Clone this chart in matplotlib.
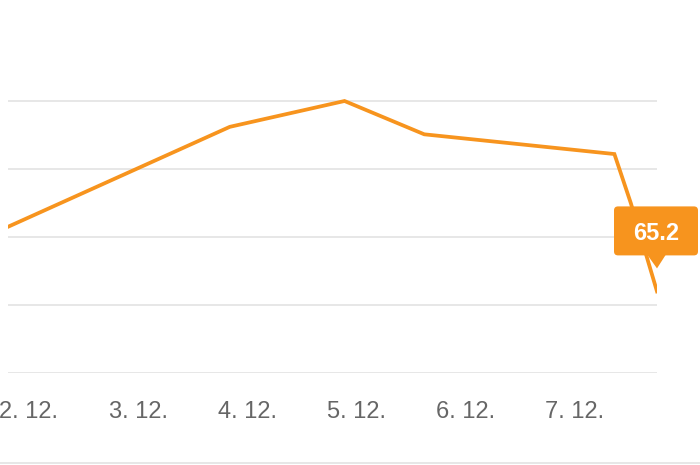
import numpy as np
import matplotlib
matplotlib.use("Agg")
import matplotlib.pyplot as plt
from matplotlib.patches import FancyBboxPatch, Polygon
from matplotlib.transforms import Affine2D
from matplotlib.lines import Line2D

# data (day of month, value)
days = [1.81, 3.84, 4.89, 5.62, 7.36, 7.51, 7.75]
values = [66.15, 67.62, 68.0, 67.51, 67.22, 66.5, 65.2]
tick_days = [2, 3, 4, 5, 6, 7]
tick_labels = ["2. 12.", "3. 12.", "4. 12.", "5. 12.", "6. 12.", "7. 12."]
grid_values = [64, 65, 66, 67, 68]

orange = "#f7941e"
grid_col = "#e3e3e3"

plt.rcParams['font.family'] = ['Liberation Sans', 'DejaVu Sans']

fig = plt.figure(figsize=(7, 4.65), dpi=100)
W, H = 700, 465
ax = fig.add_axes([8 / W, (H - 373) / H, (657 - 8) / W, (373 - 33) / H])

ax.plot(days, values, color=orange, lw=2.7, solid_joinstyle='miter', zorder=3)

ax.set_xlim(1.81, 7.75)
ax.set_ylim(64, 69)
ax.set_yticks(grid_values)
ax.set_xticks(tick_days)
ax.set_xticklabels(tick_labels, fontsize=17, color="#666666")
ax.tick_params(axis='x', length=0, pad=20)
ax.tick_params(axis='y', length=0, labelleft=False)
ax.grid(axis='y', color=grid_col, lw=1.2)
for s in ax.spines.values():
    s.set_visible(False)

# bottom separator line
fig.add_artist(Line2D([0, 1], [1 - 463 / H, 1 - 463 / H], color=grid_col, lw=1.2))

# tooltip on last point
px, py = ax.transData.transform((days[-1], values[-1]))
tr = Affine2D().translate(px, py)
box = FancyBboxPatch((-43, 36), 84, 49, boxstyle="round,pad=0,rounding_size=4",
                     fc=orange, ec='none', transform=tr, clip_on=False, zorder=5)
fig.add_artist(box)
tri = Polygon([(-10, 37), (9, 37), (0, 23)], closed=True, fc=orange, ec='none',
              transform=tr, clip_on=False, zorder=5)
fig.add_artist(tri)
fig.text(px - 1, py + 58, f"{values[-1]:.1f}", transform=None, ha='center', va='center',
         fontsize=17, fontweight='bold', color='white', zorder=6)

fig.savefig("out.png", dpi=100)
